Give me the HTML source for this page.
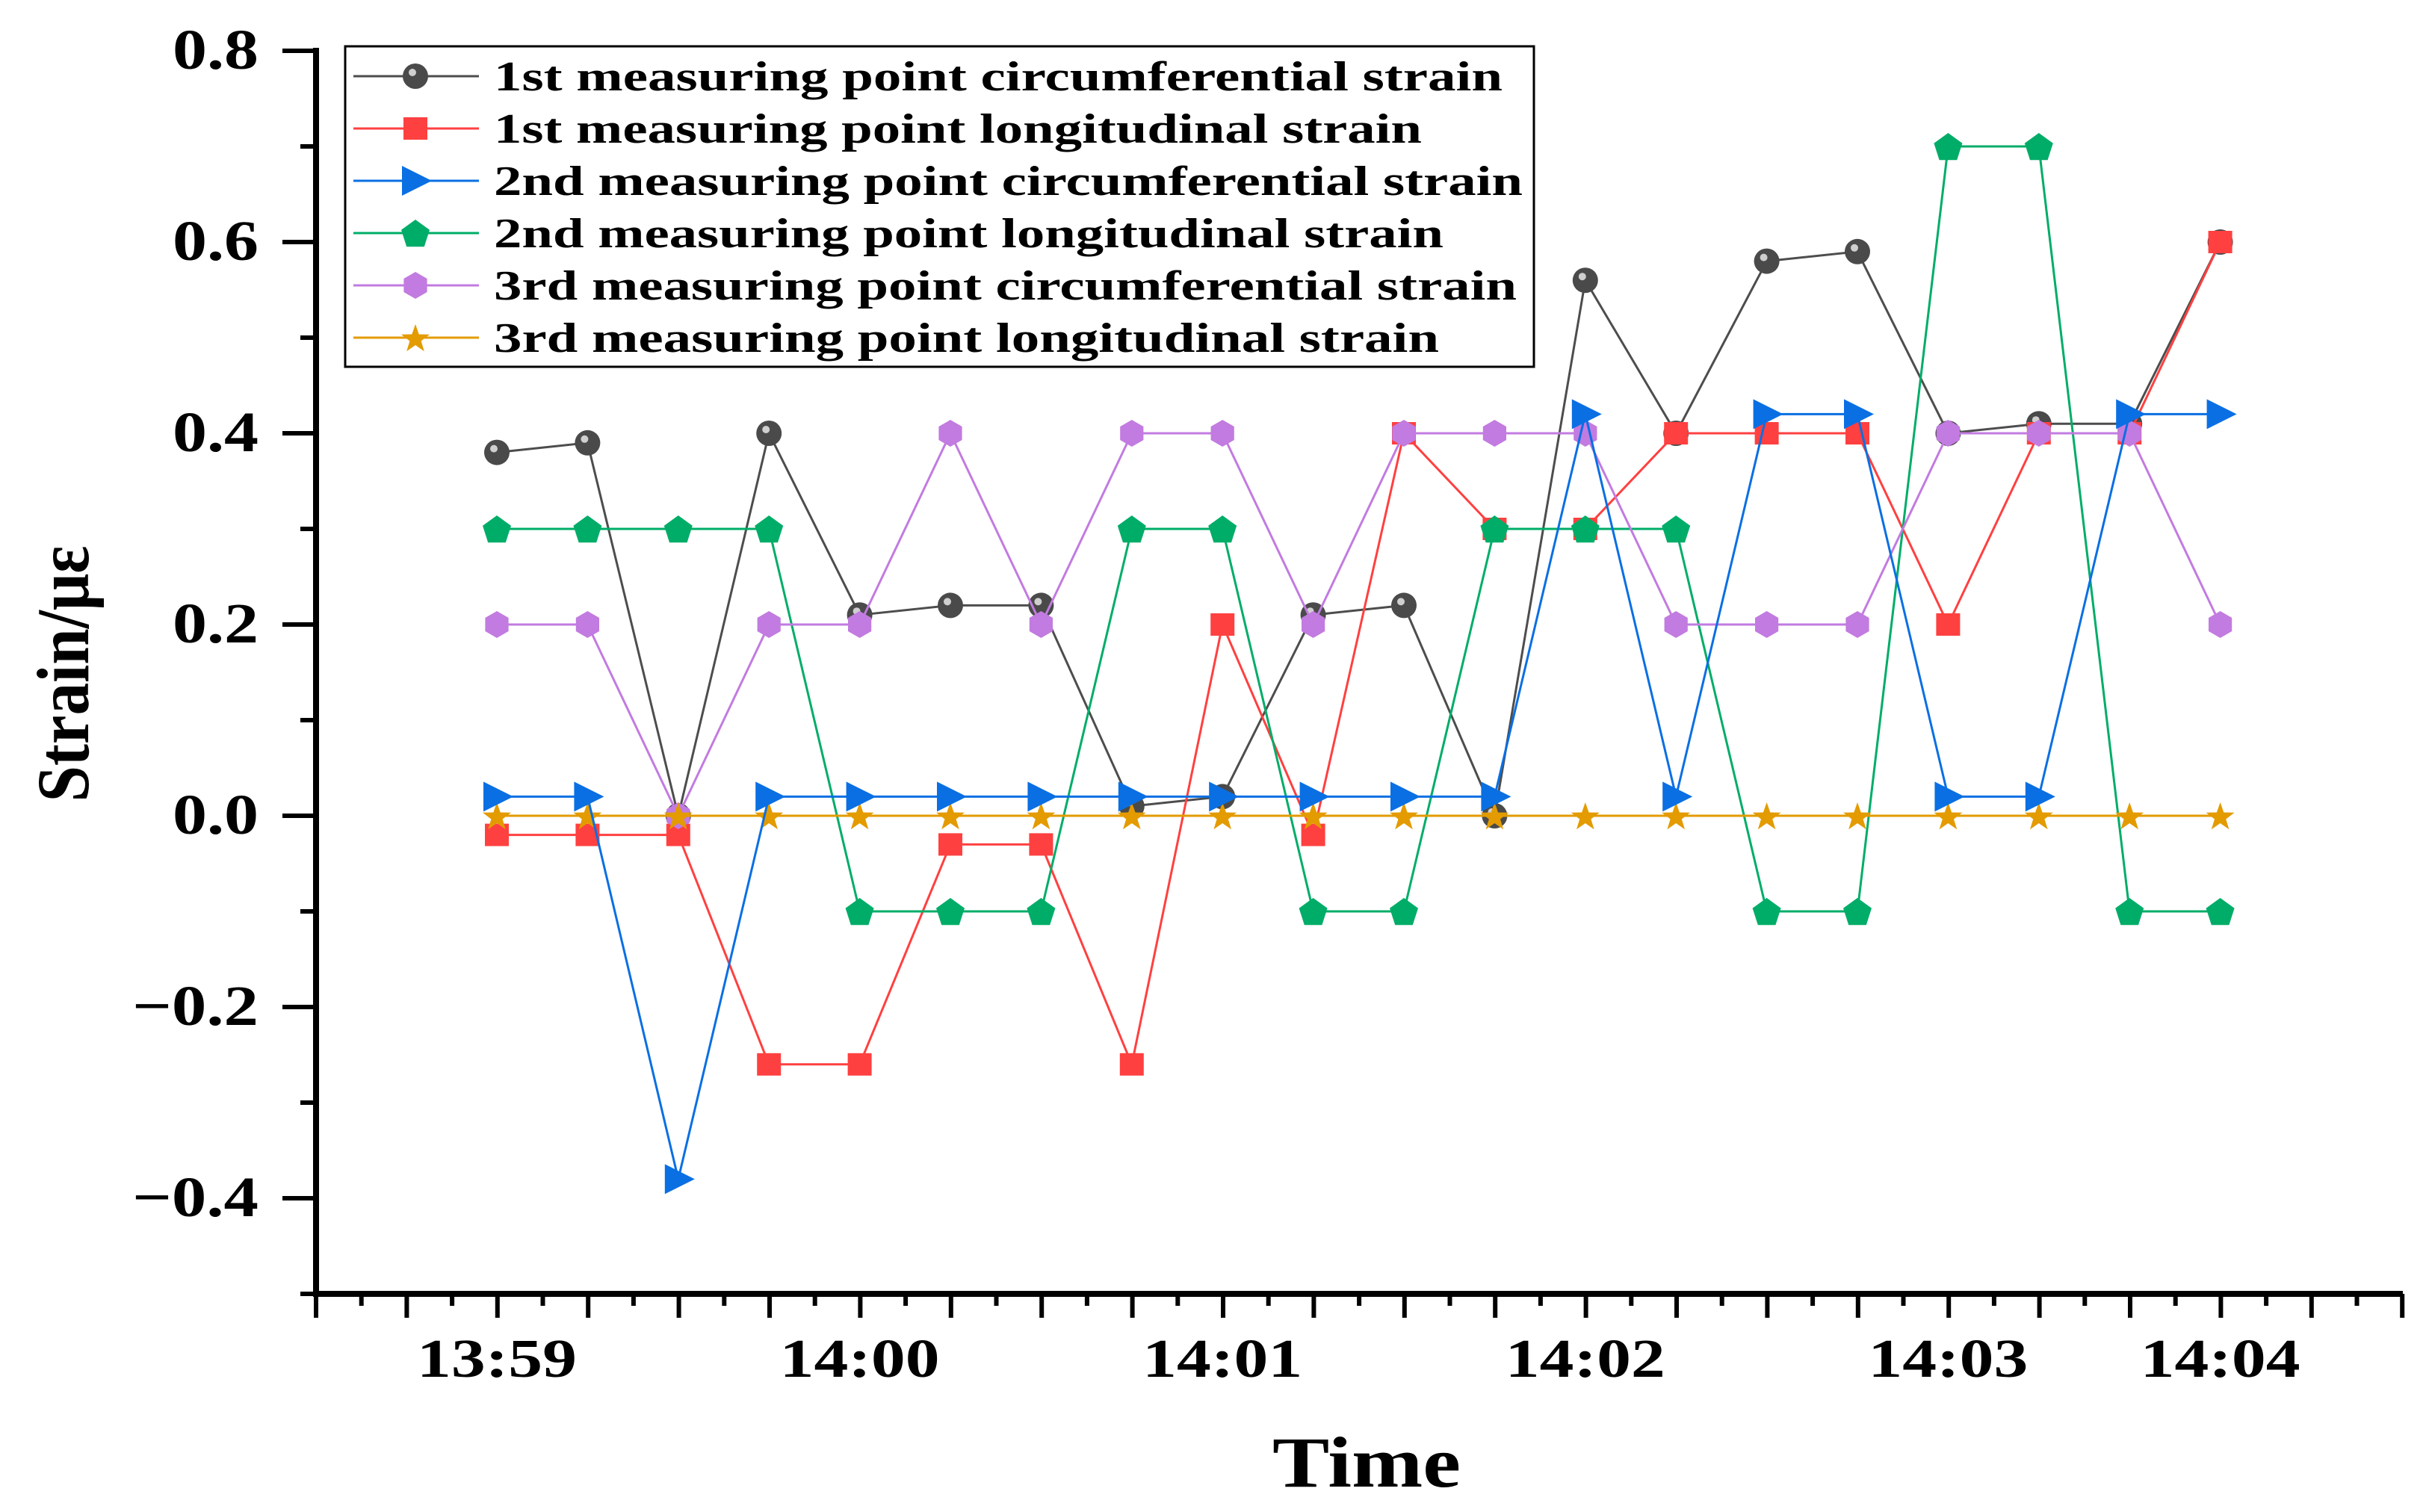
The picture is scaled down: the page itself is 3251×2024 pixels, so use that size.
<!DOCTYPE html>
<html><head><meta charset="utf-8"><style>
html,body{margin:0;padding:0;background:#fff;}
svg{display:block;}
text{font-family:"Liberation Serif",serif;font-weight:bold;fill:#000;}
</style></head><body>
<svg id="chart" width="3251" height="2024" viewBox="0 0 3251 2024" xmlns="http://www.w3.org/2000/svg">
<g id="axes"></g>
<g id="series"></g>
<g id="legend"></g>
</svg>
<script>
const timeIdx = [0,1,2,3,4,5,6,7,8,9,10,11,12,13,14,15,16,17,18,19];
const xTickLabels = ["13:59","14:00","14:01","14:02","14:03","14:04"];
const xTickLabelIdx = [0,4,8,12,16,19];
const yTickValues = [-0.4,-0.2,0.0,0.2,0.4,0.6,0.8];
const yTickLabels = ["\u22120.4","\u22120.2","0.0","0.2","0.4","0.6","0.8"];
const p1Circ = [0.38,0.39,0,0.40,0.21,0.22,0.22,0.01,0.02,0.21,0.22,0,0.56,0.40,0.58,0.59,0.40,0.41,0.41,0.60];
const p1Long = [-0.02,-0.02,-0.02,-0.26,-0.26,-0.03,-0.03,-0.26,0.20,-0.02,0.40,0.30,0.30,0.40,0.40,0.40,0.20,0.40,0.40,0.60];
const p2Circ = [0.02,0.02,-0.38,0.02,0.02,0.02,0.02,0.02,0.02,0.02,0.02,0.02,0.42,0.02,0.42,0.42,0.02,0.02,0.42,0.42];
const p2Long = [0.3,0.3,0.3,0.3,-0.1,-0.1,-0.1,0.3,0.3,-0.1,-0.1,0.3,0.3,0.3,-0.1,-0.1,0.7,0.7,-0.1,-0.1];
const p3Circ = [0.2,0.2,0,0.2,0.2,0.4,0.2,0.4,0.4,0.2,0.4,0.4,0.4,0.2,0.2,0.2,0.4,0.4,0.4,0.2];
const p3Long = [0,0,0,0,0,0,0,0,0,0,0,0,0,0,0,0,0,0,0,0];
const seriesNames = ["1st measuring point circumferential strain","1st measuring point longitudinal strain","2nd measuring point circumferential strain","2nd measuring point longitudinal strain","3rd measuring point circumferential strain","3rd measuring point longitudinal strain"];

const NS="http://www.w3.org/2000/svg";
const X0=665, STEP=121.4, Y0=1092, PER=1280;
function xs(i){return X0+i*STEP;}
function ys(v){return Y0-v*PER;}
function mk(tag,attrs,parent){const e=document.createElementNS(NS,tag);for(const k in attrs)e.setAttribute(k,attrs[k]);parent.appendChild(e);return e;}
const axes=document.getElementById('axes'),ser=document.getElementById('series'),leg=document.getElementById('legend');

let e;
e=mk('line',{x1:423,y1:64,x2:423,y2:1736,stroke:'#000','stroke-width':8},axes);


e=mk('line',{x1:419,y1:1732,x2:3216,y2:1732,stroke:'#000','stroke-width':8},axes);


for(let v=-0.5;v<=0.81;v+=0.1){
  const major=Math.abs(Math.round(v*10)%2)===0;
  e=mk('line',{x1:major?378:402,y1:ys(v),x2:423,y2:ys(v),stroke:'#000','stroke-width':6},axes);
  
  
}
yTickValues.forEach((v,i)=>{
  const w=yTickLabels[i].length>3?169:115;
  e=mk('text',{x:346,y:ys(v)+24,'text-anchor':'end','font-size':76,textLength:w,lengthAdjust:'spacingAndGlyphs'},axes);
  e.textContent=yTickLabels[i];
  
  
});
for(let k=0;k<=46;k++){
  const x=423+k*STEP/2, major=k%2===0;
  e=mk('line',{x1:x,y1:1732,x2:x,y2:major?1764:1748,stroke:'#000','stroke-width':6},axes);
  
  
}
xTickLabels.forEach((t,i)=>{
  e=mk('text',{x:xs(xTickLabelIdx[i]),y:1843,'text-anchor':'middle','font-size':73,textLength:214,lengthAdjust:'spacingAndGlyphs'},axes);
  e.textContent=t;
  
  
});
e=mk('text',{x:1829,y:1990,'text-anchor':'middle','font-size':96,textLength:252,lengthAdjust:'spacingAndGlyphs'},axes);
e.textContent='Time';


e=mk('text',{x:0,y:0,'text-anchor':'middle','font-size':100,textLength:343,lengthAdjust:'spacingAndGlyphs',transform:'translate(118,902) rotate(-90)'},axes);
e.textContent='Strain/\u03bc\u03b5';



function marker(type,cx,cy,color,parent){
  let m;
  if(type==='circle'){
    m=mk('g',{},parent);
    mk('circle',{cx:cx,cy:cy,r:17,fill:'#4a4a4a'},m);
    mk('circle',{cx:cx-4,cy:cy-5,r:5,fill:'#cfcfcf'},m);
  } else if(type==='square'){
    m=mk('rect',{x:cx-16,y:cy-15,width:32,height:30,fill:color},parent);
  } else if(type==='tri'){
    m=mk('polygon',{points:`${cx-18},${cy-20} ${cx+22},${cy} ${cx-18},${cy+20}`,fill:color},parent);
  } else if(type==='pent'){
    const p=[];for(let k=0;k<5;k++){const a=-Math.PI/2+k*2*Math.PI/5;p.push((cx+20*Math.cos(a)).toFixed(1)+','+(cy+2+20*Math.sin(a)).toFixed(1));}
    m=mk('polygon',{points:p.join(' '),fill:color},parent);
  } else if(type==='hex'){
    const p=[];for(let k=0;k<6;k++){const a=-Math.PI/2+k*Math.PI/3;p.push((cx+18*Math.cos(a)).toFixed(1)+','+(cy+18*Math.sin(a)).toFixed(1));}
    m=mk('polygon',{points:p.join(' '),fill:color},parent);
  } else {
    const p=[];for(let k=0;k<10;k++){const a=-Math.PI/2+k*Math.PI/5,r=k%2?8:20;p.push((cx+r*Math.cos(a)).toFixed(1)+','+(cy+2+r*Math.sin(a)).toFixed(1));}
    m=mk('polygon',{points:p.join(' '),fill:color},parent);
  }
  return m;
}
const order=[0,1,3,4,5,2];
const colors=['#4d4d4d','#ff4040','#0a6fe3','#00ad68','#c27be0','#e39b00'];
const types=['circle','square','tri','pent','hex','star'];
const dataBySeries=[p1Circ,p1Long,p2Circ,p2Long,p3Circ,p3Long];
const snames=['p1-circumferential','p1-longitudinal','p2-circumferential','p2-longitudinal','p3-circumferential','p3-longitudinal'];
order.forEach(s=>{
  const d=dataBySeries[s];
  const g=mk('g',{},ser);
  
  
  const pl=mk('polyline',{points:timeIdx.map(i=>xs(i)+','+ys(d[i])).join(' '),fill:'none',stroke:colors[s],'stroke-width':3},g);
  
  
  timeIdx.forEach(i=>{
    const m=marker(types[s],xs(i),ys(d[i]),colors[s],g);
    
    
  });
});

e=mk('rect',{x:462,y:62,width:1591,height:429,fill:'#fff',stroke:'#000','stroke-width':3},leg);


const legW=[1350,1242,1377,1271,1369,1265];
seriesNames.forEach((n,s)=>{
  const cy=102+s*70;
  const g=mk('g',{},leg);
  
  
  mk('line',{x1:473,y1:cy,x2:641,y2:cy,stroke:colors[s],'stroke-width':3},g);
  marker(types[s],556,cy,colors[s],g);
  const t=mk('text',{x:661,y:cy+19,'font-size':56,textLength:legW[s],lengthAdjust:'spacingAndGlyphs'},g);
  t.textContent=n;
  
  
});
</script>
</body></html>
